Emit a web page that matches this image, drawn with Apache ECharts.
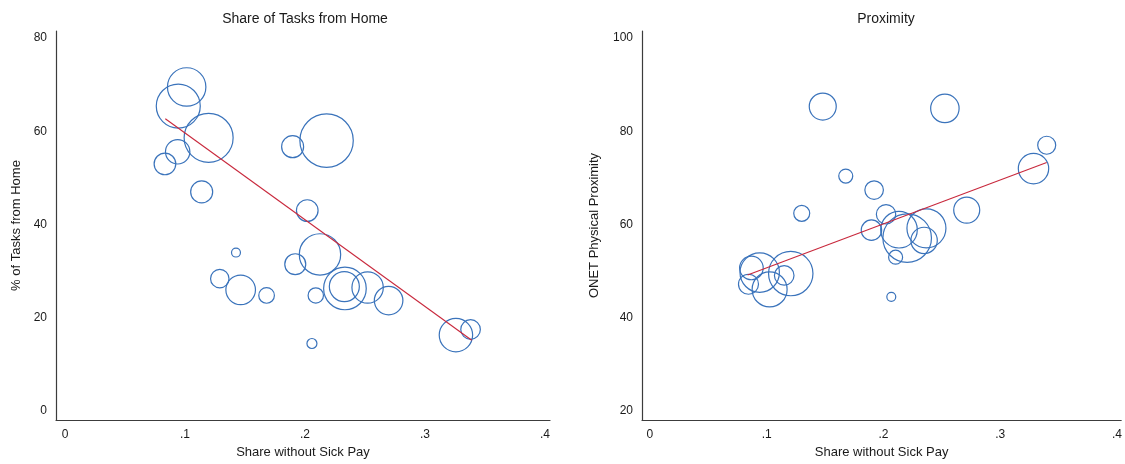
<!DOCTYPE html>
<html>
<head>
<meta charset="utf-8">
<script src="https://cdn.jsdelivr.net/npm/echarts@6/dist/echarts.min.js"></script>
<style>
html,body{margin:0;padding:0;background:#fff;}
#main{width:1125px;height:464px;}
</style>
</head>
<body>
<div id="main"></div>
<script>
// ---- Data ----
// Left panel: share without sick pay vs % of tasks from home, bubble weight
var homeX = [0.1014,0.0944,0.1197,0.0939,0.0833,0.1139,0.1897,0.2180,0.2019,0.1425,0.2125,0.1919,0.1290,0.1464,0.1680,0.2090,0.2333,0.2328,0.2522,0.2697,0.2058,0.3258,0.3380];
var homeY = [69.5,65.4,58.6,55.6,53.0,47.0,56.7,58.0,43.0,34.0,33.6,31.5,28.4,26.0,24.8,24.8,26.3,26.7,26.5,23.7,14.5,16.3,17.5];
var homeW = [3.69,4.84,6.00,1.49,1.17,1.21,1.21,7.13,1.17,0.20,4.28,1.10,0.85,2.19,0.61,0.59,4.54,2.25,2.46,2.04,0.25,2.79,0.96];
var homeFitX = [0.0836, 0.3390];
var homeFitY = [62.7, 15.2];

// Right panel: share without sick pay vs ONET physical proximity, bubble weight
var proxX = [0.1480,0.2526,0.3398,0.3285,0.1677,0.1920,0.1300,0.2713,0.2022,0.1897,0.2133,0.2203,0.2368,0.2348,0.2104,0.2067,0.0869,0.0940,0.1206,0.1150,0.0844,0.1025];
var proxY = [85.3,84.9,77.0,72.0,70.4,67.4,62.4,63.1,62.2,58.8,58.9,57.1,59.2,56.6,53.0,44.5,50.7,49.7,49.5,49.1,47.2,46.1];
var proxW = [1.82,2.02,0.81,2.31,0.49,0.86,0.64,1.69,0.94,1.04,3.35,5.90,3.80,1.74,0.49,0.20,1.39,3.88,4.93,0.96,1.00,3.06];
var proxFitX = [0.0836, 0.3398];
var proxFitY = [49.2, 73.3];

var xTicks = [0, 0.1, 0.2, 0.3, 0.4];
var homeTicks = [0, 20, 40, 60, 80];
var proxTicks = [20, 40, 60, 80, 100];

var titles = ['Share of Tasks from Home', 'Proximity'];
var xTitle = 'Share without Sick Pay';
var yTitles = ['% of Tasks from Home', 'ONET Physical Proximity'];

// ---- Build ----
function zip(xs, ys, ws) {
  return xs.map(function (x, i) { return ws ? [x, ys[i], ws[i]] : [x, ys[i]]; });
}
var FONT = 'Liberation Sans, Arial, Helvetica, sans-serif';
var TXT = '#1a1a1a';
var AXC = '#3c3c3c';
function xFmt(v) { return v === 0 ? '0' : String(+v.toFixed(2)).replace(/^0\./, '.'); }

function xAxisCfg(gi, min, max) {
  return {
    type: 'value', gridIndex: gi, min: min, max: max,
    name: xTitle, nameLocation: 'middle', nameGap: 26,
    nameTextStyle: { fontFamily: FONT, fontSize: 13, color: TXT },
    axisLine: { show: true, onZero: false, lineStyle: { color: AXC, width: 1.2 } },
    axisTick: { show: false },
    splitLine: { show: false },
    axisLabel: { customValues: xTicks, formatter: xFmt, fontFamily: FONT, fontSize: 12, color: TXT, margin: 9 }
  };
}
function yAxisCfg(gi, min, max, ticks, name, gap) {
  return {
    type: 'value', gridIndex: gi, min: min, max: max,
    name: name, nameLocation: 'middle', nameGap: gap, nameRotate: 90,
    nameTextStyle: { fontFamily: FONT, fontSize: 13, color: TXT },
    axisLine: { show: true, onZero: false, lineStyle: { color: AXC, width: 1.2 } },
    axisTick: { show: false },
    splitLine: { show: false },
    axisLabel: { customValues: ticks, fontFamily: FONT, fontSize: 12, color: TXT, margin: 9 }
  };
}
function bubbles(gi, data) {
  return {
    type: 'scatter', xAxisIndex: gi, yAxisIndex: gi, data: data,
    symbol: 'circle',
    symbolSize: function (d) { return 20 * Math.sqrt(d[2]); },
    itemStyle: { color: 'rgba(0,0,0,0)', borderColor: '#3a73bb', borderWidth: 1.2, opacity: 1 },
    emphasis: { disabled: true }, silent: true, clip: false
  };
}
function fit(gi, data) {
  return {
    type: 'line', xAxisIndex: gi, yAxisIndex: gi, data: data,
    symbol: 'none', lineStyle: { color: '#c8283c', width: 1.1 },
    silent: true, z: 3
  };
}

var chart = echarts.init(document.getElementById('main'), null, { renderer: 'canvas' });
chart.setOption({
  animation: false,
  backgroundColor: '#ffffff',
  title: [
    { text: titles[0], left: 305, textAlign: 'center', top: 12, padding: 0,
      textStyle: { fontFamily: FONT, fontSize: 14, fontWeight: 'normal', color: TXT } },
    { text: titles[1], left: 886, textAlign: 'center', top: 12, padding: 0,
      textStyle: { fontFamily: FONT, fontSize: 14, fontWeight: 'normal', color: TXT } }
  ],
  grid: [
    { left: 56, top: 31, width: 494, bottom: 40, containLabel: false },
    { left: 642, top: 31, right: 0, bottom: 40, containLabel: false }
  ],
  xAxis: [
    xAxisCfg(0, -0.0075, 0.4042),
    xAxisCfg(1, -0.0068, 0.4036)
  ],
  yAxis: [
    yAxisCfg(0, -1.9, 81.5, homeTicks, yTitles[0], 33),
    yAxisCfg(1, 18.1, 101.5, proxTicks, yTitles[1], 41)
  ],
  series: [
    bubbles(0, zip(homeX, homeY, homeW)),
    fit(0, zip(homeFitX, homeFitY)),
    bubbles(1, zip(proxX, proxY, proxW)),
    fit(1, zip(proxFitX, proxFitY))
  ]
});
</script>
</body>
</html>
